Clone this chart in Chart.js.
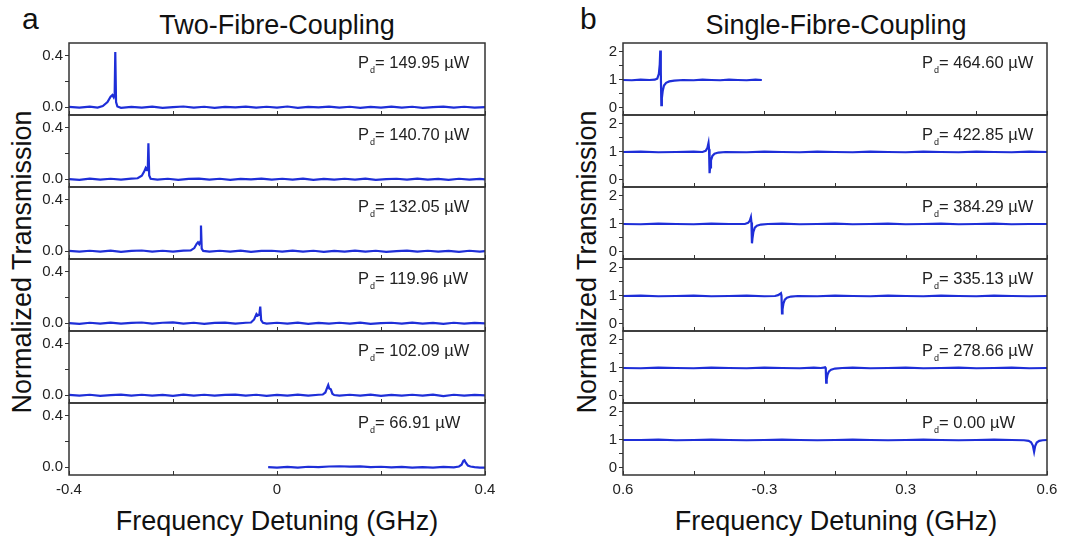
<!DOCTYPE html>
<html>
<head>
<meta charset="utf-8">
<script src="https://cdn.jsdelivr.net/npm/chart.js@4.4.0/dist/chart.umd.min.js"></script>
<style>
  body { margin: 0; width: 1072px; height: 540px; background: #fff; position: relative; overflow: hidden;
         font-family: "Liberation Sans", Arial, sans-serif; color: #111; }
  .txt { position: absolute; white-space: nowrap; line-height: 1; }
  .box { position: absolute; }
  .pd { position: absolute; white-space: nowrap; font-size: 16.5px; line-height: 16px; color: #222; }
  .pd sub { font-size: 9px; vertical-align: -5px; margin-left: 1px; }
  .rot { position: absolute; white-space: nowrap; font-size: 27px; line-height: 27px; transform: translate(-50%, -50%) rotate(-90deg); }
</style>
</head>
<body>

<div class="txt" style="left:22px; top:4px; font-size:30px;">a</div>
<div class="txt" style="left:580px; top:4px; font-size:30px;">b</div>
<div class="txt" style="left:277px; top:12px; font-size:27px; transform:translateX(-50%);">Two-Fibre-Coupling</div>
<div class="txt" style="left:836px; top:12px; font-size:27px; transform:translateX(-50%);">Single-Fibre-Coupling</div>
<div class="txt" style="left:277px; top:508px; font-size:27px; transform:translateX(-50%);">Frequency Detuning (GHz)</div>
<div class="txt" style="left:836px; top:508px; font-size:27px; transform:translateX(-50%);">Frequency Detuning (GHz)</div>
<div class="rot" style="left:22px; top:262px;">Normalized Transmission</div>
<div class="rot" style="left:587px; top:262px;">Normalized Transmission</div>

<script>
// ---- data ----
const powersA = ['149.95', '140.70', '132.05', '119.96', '102.09', '66.91'];
const powersB = ['464.60', '422.85', '384.29', '335.13', '278.66', '0.00'];

const xTicksA = [-0.4, -0.2, 0, 0.2, 0.4];
const xLabelsA = ['-0.4', '', '0', '', '0.4'];
const yTicksA = [0, 0.2, 0.4];
const yLabelsA = ['0.0', '', '0.4'];

const xTicksB = [-0.6, -0.4, -0.2, 0, 0.2, 0.4, 0.6];
const xLabelsB = ['0.6', '', '-0.3', '', '0.3', '', '0.6'];
const yTicksB = [0, 0.5, 1, 1.5, 2];
const yLabelsB = ['0', '', '1', '', '2'];

// two-fibre traces [GHz, transmission]
const traceA1 = [
  [-0.400, 0.004], [-0.380, -0.003], [-0.360, 0.005], [-0.345, -0.002], [-0.335, 0.010],
  [-0.326, 0.040], [-0.320, 0.082], [-0.3165, 0.095], [-0.3140, 0.078], [-0.3122, 0.100],
  [-0.3110, 0.430], [-0.3095, 0.040], [-0.3070, 0.006], [-0.300, -0.004], [-0.280, 0.003],
  [-0.260, -0.002], [-0.240, 0.005], [-0.220, -0.004], [-0.200, 0.002], [-0.180, 0.006],
  [-0.160, -0.003], [-0.140, 0.004], [-0.120, -0.005], [-0.100, 0.003], [-0.080, 0.000],
  [-0.060, 0.005], [-0.040, -0.003], [-0.020, 0.004], [0.000, -0.002], [0.020, 0.006],
  [0.040, -0.004], [0.060, 0.003], [0.080, 0.000], [0.100, 0.005], [0.120, -0.003],
  [0.140, 0.004], [0.160, -0.004], [0.180, 0.003], [0.200, -0.002], [0.220, 0.005],
  [0.240, -0.003], [0.260, 0.004], [0.280, -0.004], [0.300, 0.002], [0.320, 0.005],
  [0.340, -0.002], [0.360, 0.004], [0.380, -0.003], [0.400, 0.002]
];
const traceA2 = [
  [-0.400, 0.002], [-0.380, -0.004], [-0.360, 0.005], [-0.340, -0.003], [-0.320, 0.004],
  [-0.300, -0.002], [-0.280, 0.005], [-0.268, 0.008], [-0.260, 0.028], [-0.2555, 0.060],
  [-0.2525, 0.088], [-0.2500, 0.072], [-0.2485, 0.085], [-0.2473, 0.280], [-0.2458, 0.030],
  [-0.2430, 0.004], [-0.230, -0.003], [-0.210, 0.004], [-0.190, -0.004], [-0.170, 0.003],
  [-0.150, 0.005], [-0.130, -0.002], [-0.110, 0.004], [-0.090, -0.004], [-0.070, 0.003],
  [-0.050, 0.000], [-0.030, 0.005], [-0.010, -0.003], [0.010, 0.004], [0.030, -0.002],
  [0.050, 0.005], [0.070, -0.004], [0.090, 0.003], [0.110, -0.002], [0.130, 0.004],
  [0.150, -0.003], [0.170, 0.005], [0.190, -0.004], [0.210, 0.002], [0.230, 0.004],
  [0.250, -0.003], [0.270, 0.005], [0.290, -0.002], [0.310, 0.003], [0.330, -0.004],
  [0.350, 0.004], [0.370, -0.002], [0.390, 0.003], [0.400, 0.000]
];
const traceA3 = [
  [-0.400, 0.003], [-0.380, -0.003], [-0.360, 0.004], [-0.340, -0.002], [-0.320, 0.005],
  [-0.300, -0.004], [-0.280, 0.003], [-0.260, 0.006], [-0.240, -0.002], [-0.220, 0.004],
  [-0.200, -0.003], [-0.180, 0.005], [-0.166, 0.007], [-0.159, 0.025], [-0.1545, 0.058],
  [-0.1520, 0.070], [-0.1495, 0.055], [-0.1475, 0.075], [-0.1462, 0.200], [-0.1448, 0.020],
  [-0.1420, 0.003], [-0.130, -0.003], [-0.110, 0.004], [-0.090, -0.002], [-0.070, 0.005],
  [-0.050, -0.004], [-0.030, 0.003], [-0.010, 0.004], [0.010, -0.003], [0.030, 0.005],
  [0.050, -0.002], [0.070, 0.004], [0.090, -0.004], [0.110, 0.003], [0.130, -0.002],
  [0.150, 0.005], [0.170, -0.003], [0.190, 0.004], [0.210, -0.004], [0.230, 0.002],
  [0.250, 0.005], [0.270, -0.003], [0.290, 0.004], [0.310, -0.002], [0.330, 0.003],
  [0.350, -0.004], [0.370, 0.004], [0.390, -0.002], [0.400, 0.002]
];
const traceA4 = [
  [-0.400, 0.002], [-0.380, -0.004], [-0.360, 0.004], [-0.340, -0.002], [-0.320, 0.005],
  [-0.300, -0.003], [-0.280, 0.003], [-0.260, 0.006], [-0.240, -0.003], [-0.220, 0.004],
  [-0.200, 0.007], [-0.180, -0.002], [-0.160, 0.004], [-0.140, -0.004], [-0.120, 0.003],
  [-0.100, 0.005], [-0.080, -0.002], [-0.060, 0.004], [-0.050, 0.006], [-0.044, 0.030],
  [-0.0395, 0.072], [-0.0370, 0.060], [-0.0340, 0.068], [-0.0322, 0.130], [-0.0305, 0.025],
  [-0.0270, 0.004], [-0.020, -0.003], [0.000, 0.004], [0.020, -0.002], [0.040, 0.005],
  [0.060, -0.004], [0.080, 0.003], [0.100, -0.002], [0.120, 0.004], [0.140, -0.003],
  [0.160, 0.005], [0.180, -0.004], [0.200, 0.002], [0.220, 0.004], [0.240, -0.003],
  [0.260, 0.005], [0.280, -0.002], [0.300, 0.003], [0.320, -0.004], [0.340, 0.004],
  [0.360, -0.002], [0.380, 0.003], [0.400, 0.000]
];
const traceA5 = [
  [-0.400, 0.003], [-0.380, -0.003], [-0.360, 0.004], [-0.340, -0.004], [-0.320, 0.002],
  [-0.300, 0.005], [-0.280, -0.002], [-0.260, 0.004], [-0.240, -0.003], [-0.220, 0.003],
  [-0.200, -0.004], [-0.180, 0.005], [-0.160, -0.002], [-0.140, 0.004], [-0.120, -0.003],
  [-0.100, 0.003], [-0.080, 0.005], [-0.060, -0.002], [-0.040, 0.004], [-0.020, -0.004],
  [0.000, 0.003], [0.020, -0.002], [0.040, 0.005], [0.060, -0.003], [0.080, 0.004],
  [0.088, 0.006], [0.093, 0.022], [0.0965, 0.060], [0.0985, 0.080], [0.1005, 0.052],
  [0.1035, 0.046], [0.1065, 0.012], [0.1100, 0.002], [0.120, -0.003], [0.140, 0.004],
  [0.160, -0.002], [0.180, 0.005], [0.200, -0.004], [0.220, 0.003], [0.240, -0.002],
  [0.260, 0.004], [0.280, -0.003], [0.300, 0.005], [0.320, -0.006], [0.340, 0.004],
  [0.360, -0.002], [0.380, 0.003], [0.400, -0.001]
];
const traceA6 = [
  [-0.017, 0.001], [0.000, -0.003], [0.020, 0.003], [0.040, -0.002], [0.060, 0.004],
  [0.080, 0.002], [0.100, 0.006], [0.120, 0.008], [0.140, 0.005], [0.160, 0.007],
  [0.180, 0.002], [0.200, 0.004], [0.220, -0.001], [0.240, 0.003], [0.260, -0.003],
  [0.280, 0.002], [0.300, -0.002], [0.320, 0.003], [0.340, 0.000], [0.350, 0.006],
  [0.355, 0.020], [0.3585, 0.050], [0.3605, 0.055], [0.3630, 0.035], [0.3670, 0.014],
  [0.3720, 0.006], [0.380, 0.001], [0.390, -0.003], [0.400, -0.002]
];

// single-fibre traces [GHz, transmission]
const traceB1 = [
  [-0.600, 1.00], [-0.575, 0.99], [-0.550, 1.01], [-0.525, 1.00], [-0.510, 1.01],
  [-0.503, 1.05], [-0.4985, 1.22], [-0.4960, 1.55], [-0.4945, 2.05], [-0.4930, 1.30],
  [-0.4915, 0.10], [-0.4900, 0.35], [-0.4875, 0.62], [-0.4840, 0.80], [-0.4780, 0.90],
  [-0.4690, 0.95], [-0.4550, 0.98], [-0.430, 1.00], [-0.400, 0.99], [-0.375, 1.01],
  [-0.350, 1.00], [-0.325, 0.99], [-0.300, 1.01], [-0.275, 1.00], [-0.250, 0.99],
  [-0.225, 1.01], [-0.207, 1.00]
];
const traceB2 = [
  [-0.60, 1.00], [-0.55, 1.01], [-0.50, 0.99], [-0.45, 1.00], [-0.40, 1.01],
  [-0.375, 1.00], [-0.366, 1.04], [-0.361, 1.15], [-0.358, 1.32], [-0.3565, 1.10],
  [-0.355, 0.24], [-0.3535, 0.45], [-0.351, 0.70], [-0.347, 0.86], [-0.341, 0.94],
  [-0.330, 0.98], [-0.310, 1.00], [-0.25, 0.99], [-0.20, 1.01], [-0.15, 1.00],
  [-0.10, 0.99], [-0.05, 1.01], [0.00, 1.00], [0.05, 0.99], [0.10, 1.01],
  [0.15, 1.00], [0.20, 0.99], [0.25, 1.01], [0.30, 1.00], [0.35, 0.99],
  [0.40, 1.01], [0.45, 1.00], [0.50, 0.99], [0.55, 1.01], [0.60, 1.00]
];
const traceB3 = [
  [-0.60, 1.00], [-0.55, 0.99], [-0.50, 1.01], [-0.45, 1.00], [-0.40, 0.99],
  [-0.35, 1.01], [-0.30, 1.00], [-0.255, 1.00], [-0.246, 1.04], [-0.241, 1.12],
  [-0.238, 1.24], [-0.2365, 1.05], [-0.235, 0.31], [-0.2335, 0.50], [-0.231, 0.72],
  [-0.227, 0.87], [-0.221, 0.94], [-0.210, 0.98], [-0.190, 1.00], [-0.15, 1.01],
  [-0.10, 0.99], [-0.05, 1.00], [0.00, 1.01], [0.05, 0.99], [0.10, 1.00],
  [0.15, 1.01], [0.20, 0.99], [0.25, 1.00], [0.30, 1.01], [0.35, 0.99],
  [0.40, 1.00], [0.45, 1.01], [0.50, 0.99], [0.55, 1.00], [0.60, 1.00]
];
const traceB4 = [
  [-0.60, 1.00], [-0.55, 1.01], [-0.50, 0.99], [-0.45, 1.00], [-0.40, 1.01],
  [-0.35, 0.99], [-0.30, 1.00], [-0.25, 1.01], [-0.20, 0.99], [-0.170, 1.00],
  [-0.161, 1.03], [-0.156, 1.07], [-0.153, 1.10], [-0.1515, 1.02], [-0.150, 0.38],
  [-0.1485, 0.52], [-0.146, 0.73], [-0.142, 0.87], [-0.136, 0.94], [-0.125, 0.98],
  [-0.105, 1.00], [-0.05, 0.99], [0.00, 1.01], [0.05, 1.00], [0.10, 0.99],
  [0.15, 1.01], [0.20, 1.00], [0.25, 0.99], [0.30, 1.01], [0.35, 1.00],
  [0.40, 0.99], [0.45, 1.01], [0.50, 1.00], [0.55, 0.99], [0.60, 1.00]
];
const traceB5 = [
  [-0.60, 1.00], [-0.55, 0.99], [-0.50, 1.01], [-0.45, 1.00], [-0.40, 0.99],
  [-0.35, 1.01], [-0.30, 1.00], [-0.25, 0.99], [-0.20, 1.01], [-0.15, 1.00],
  [-0.10, 0.99], [-0.060, 1.01], [-0.040, 1.00], [-0.032, 1.01], [-0.028, 1.03],
  [-0.0262, 1.02], [-0.0250, 0.48], [-0.0235, 0.60], [-0.0210, 0.77], [-0.0170, 0.88],
  [-0.0110, 0.94], [0.000, 0.98], [0.020, 1.00], [0.05, 1.01], [0.10, 0.99],
  [0.15, 1.00], [0.20, 1.01], [0.25, 0.99], [0.30, 1.00], [0.35, 1.01],
  [0.40, 0.99], [0.45, 1.00], [0.50, 1.01], [0.55, 0.99], [0.60, 1.00]
];
const traceB6 = [
  [-0.60, 1.00], [-0.55, 1.00], [-0.50, 1.01], [-0.45, 0.99], [-0.40, 1.00],
  [-0.35, 1.01], [-0.30, 1.00], [-0.25, 0.99], [-0.20, 1.00], [-0.15, 1.01],
  [-0.10, 1.00], [-0.05, 0.99], [0.00, 1.00], [0.05, 1.01], [0.10, 1.00],
  [0.15, 0.99], [0.20, 1.00], [0.25, 1.01], [0.30, 1.00], [0.35, 0.99],
  [0.40, 1.00], [0.45, 1.01], [0.50, 1.00], [0.535, 0.99], [0.548, 0.97],
  [0.555, 0.92], [0.560, 0.80], [0.5635, 0.58], [0.5665, 0.78], [0.571, 0.91],
  [0.578, 0.97], [0.588, 0.99], [0.600, 1.00]
];

// ---- layout ----
const LINE = '#1e2ed8';
const AXIS = '#333';
const rowTop = 43, rowH = 72;
const LM = 46, RM = 22, PAD = 3, XLAB = 34;

Chart.defaults.font.family = '"Liberation Sans", Arial, sans-serif';
Chart.defaults.font.size = 15;
Chart.defaults.color = '#222';

const panels = [
  { left: 69, right: 485, xMin: -0.4, xMax: 0.4, yMin: -0.06, yMax: 0.5,
    xTicks: xTicksA, xLabels: xLabelsA, yTicks: yTicksA, yLabels: yLabelsA,
    pdLeft: 358, powers: powersA,
    traces: [traceA1, traceA2, traceA3, traceA4, traceA5, traceA6] },
  { left: 623, right: 1047, xMin: -0.6, xMax: 0.6, yMin: -0.25, yMax: 2.32,
    xTicks: xTicksB, xLabels: xLabelsB, yTicks: yTicksB, yLabels: yLabelsB,
    pdLeft: 922, powers: powersB,
    traces: [traceB1, traceB2, traceB3, traceB4, traceB5, traceB6] }
];

// box around each plot + inward x ticks
const framePlugin = {
  id: 'frame',
  afterDatasetsDraw(chart) {
    const { ctx, chartArea: a, scales: { x } } = chart;
    ctx.save();
    ctx.strokeStyle = AXIS;
    ctx.lineWidth = 1.5;
    ctx.strokeRect(a.left, a.top, a.right - a.left, a.bottom - a.top);
    ctx.lineWidth = 1;
    x.ticks.forEach(t => {
      const px = Math.round(x.getPixelForValue(t.value)) + 0.5;
      ctx.beginPath();
      ctx.moveTo(px, a.bottom);
      ctx.lineTo(px, a.bottom - 4);
      ctx.stroke();
    });
    ctx.restore();
  }
};

function noPad(s) {
  s.paddingTop = 0; s.paddingBottom = 0; s.paddingLeft = 0; s.paddingRight = 0;
}

function makePlot(p, i) {
  const last = i === 5;
  const w = p.right - p.left + LM + RM;
  const h = PAD + rowH + (last ? XLAB : PAD);
  const wrap = document.createElement('div');
  wrap.className = 'box';
  wrap.style.left = (p.left - LM) + 'px';
  wrap.style.top = (rowTop + rowH * i - PAD) + 'px';
  const cv = document.createElement('canvas');
  cv.width = w;
  cv.height = h;
  wrap.appendChild(cv);
  document.body.appendChild(wrap);

  new Chart(cv, {
    type: 'line',
    data: {
      datasets: [{
        data: p.traces[i].map(d => ({ x: d[0], y: d[1] })),
        borderColor: LINE,
        borderWidth: 2.2,
        pointRadius: 0,
        tension: 0
      }]
    },
    options: {
      responsive: false,
      animation: false,
      layout: { padding: { top: PAD, right: RM, bottom: last ? 0 : PAD, left: 0 } },
      plugins: { legend: { display: false }, tooltip: { enabled: false } },
      scales: {
        x: {
          type: 'linear', min: p.xMin, max: p.xMax,
          afterBuildTicks: s => { s.ticks = p.xTicks.map(v => ({ value: v })); },
          afterFit: s => { s.height = last ? XLAB : 0; noPad(s); },
          grid: { display: false, drawTicks: false },
          border: { display: false },
          ticks: { display: last, padding: 6, maxRotation: 0, autoSkip: false,
                   callback: (v, k) => p.xLabels[k] }
        },
        y: {
          min: p.yMin, max: p.yMax,
          afterBuildTicks: s => { s.ticks = p.yTicks.map(v => ({ value: v })); },
          afterFit: s => { s.width = LM; noPad(s); },
          grid: { drawOnChartArea: false, tickLength: 4, color: AXIS },
          border: { display: false },
          ticks: { padding: 2, autoSkip: false, callback: (v, k) => p.yLabels[k] }
        }
      }
    },
    plugins: [framePlugin]
  });

  const pd = document.createElement('div');
  pd.className = 'pd';
  pd.innerHTML = 'P<sub>d</sub>= ' + p.powers[i] + ' µW';
  pd.style.left = p.pdLeft + 'px';
  pd.style.top = (rowTop + rowH * i + 11) + 'px';
  document.body.appendChild(pd);
}

panels.forEach(p => { for (let i = 0; i < 6; i++) makePlot(p, i); });
</script>
</body>
</html>
